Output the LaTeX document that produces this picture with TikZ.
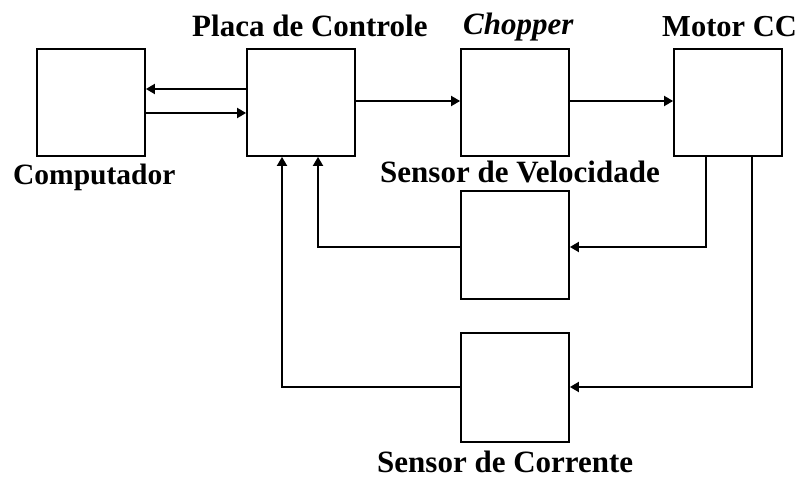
\documentclass[tikz,border=0pt]{standalone}
\usepackage{fontspec}
\setmainfont{Liberation Serif}
\usetikzlibrary{arrows.meta}
\begin{document}
\begin{tikzpicture}[x=1pt,y=-1pt,
  blk/.style={draw,line width=1.8pt,minimum width=108pt,minimum height=107pt,inner sep=0pt},
  lbl/.style={anchor=base west,inner sep=0pt,font=\fontsize{31}{36}\selectfont\bfseries},
  arr/.style={line width=1.8pt,-{Triangle[length=9pt,width=10pt]}}]
\useasboundingbox (0,0) rectangle (802,478);
\node[blk] (comp) at (91,102.5) {};
\node[blk] (placa) at (301,102.5) {};
\node[blk] (chop) at (515,102.5) {};
\node[blk] (motor) at (728,102.5) {};
\node[blk,minimum height=108pt] (vel) at (515,245) {};
\node[blk,minimum height=109pt] (corr) at (515,387.5) {};
\node[lbl,font=\fontsize{29.5}{36}\selectfont\bfseries] (tcomp) at (13,185) {Computador};
\node[lbl] (tplaca) at (192,37) {Placa de Controle};
\node[lbl] (tchop) at (463,35) {\itshape Chopper};
\node[lbl,font=\fontsize{30.5}{36}\selectfont\bfseries] (tmotor) at (662,37) {Motor CC};
\node[lbl] (tvel) at (380,183) {Sensor de Velocidade};
\node[lbl] (tcorr) at (377,472) {Sensor de Corrente};
\coordinate (ya) at (0,89);
\coordinate (yb) at (0,113);
\coordinate (yc) at (0,101);
\coordinate (yv) at (0,247);
\coordinate (yi) at (0,387);
\coordinate (xv) at (706,0);
\coordinate (xi) at (752,0);
\coordinate (xl) at (318,0);
\coordinate (xk) at (282,0);
\draw[arr] (placa.west |- ya) -- (comp.east |- ya);
\draw[arr] (comp.east |- yb) -- (placa.west |- yb);
\draw[arr] (placa.east |- yc) -- (chop.west |- yc);
\draw[arr] (chop.east |- yc) -- (motor.west |- yc);
\draw[arr] (motor.south -| xv) |- (vel.east |- yv);
\draw[arr] (motor.south -| xi) |- (corr.east |- yi);
\draw[arr] (vel.west |- yv) -| (placa.south -| xl);
\draw[arr] (corr.west |- yi) -| (placa.south -| xk);
\end{tikzpicture}
\end{document}
